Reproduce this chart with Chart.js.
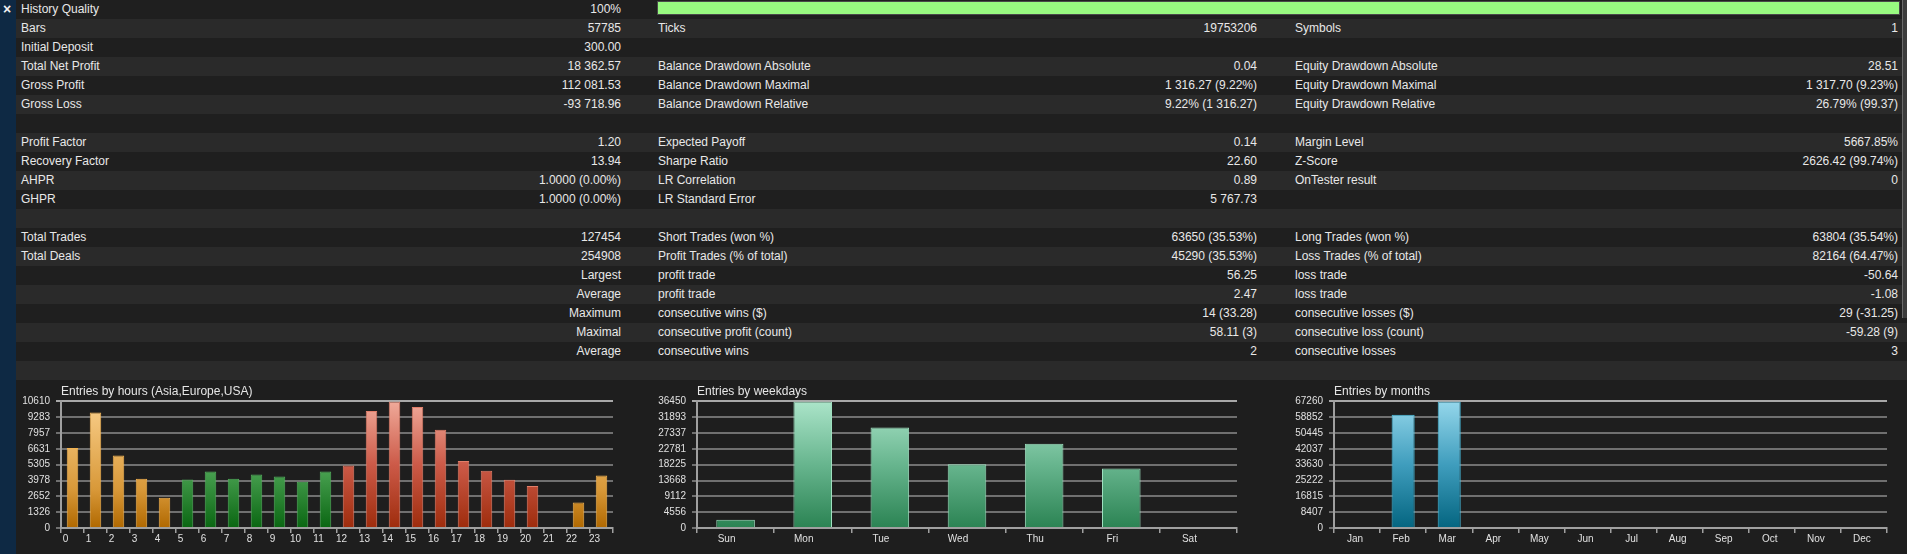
<!DOCTYPE html>
<html>
<head>
<meta charset="utf-8">
<script src="https://cdn.jsdelivr.net/npm/chart.js@4.4.0/dist/chart.umd.min.js"></script>
<style>
html, body { margin: 0; padding: 0; background: #1e1e1e; }
body { width: 1907px; height: 554px; overflow: hidden; position: relative;
       font-family: "Liberation Sans", Arial, sans-serif; font-size: 12px; color: #e8e8e8; }
#side { position: absolute; left: 0; top: 0; width: 16px; height: 554px; background: #0e2944; }
#close { position: absolute; left: 3px; top: 0; line-height: 19px; font-size: 14px; font-weight: bold; color: #f0f0f0; }
.row { position: absolute; left: 16px; width: 1891px; height: 19px; }
.t { position: absolute; line-height: 19px; white-space: nowrap; }
#quality { position: absolute; left: 657px; top: 1px; height: 14px; box-sizing: border-box;
           background: #98fa80; border: 1px solid #4a4a4a; }
#scroll { position: absolute; left: 1902px; top: 0; width: 5px; height: 318px; background: #3c3c3c; border-left: 1px solid #6a6a6a; box-sizing: border-box; }
canvas { position: absolute; top: 380px; }
</style>
</head>
<body>
<div id="side"><div id="close">×</div></div>
<div id="table"></div>
<div id="quality"></div>
<div id="scroll"></div>
<canvas id="hours" width="640" height="174" style="left:0px;width:640px;height:174px"></canvas>
<canvas id="days" width="640" height="174" style="left:640px;width:640px;height:174px"></canvas>
<canvas id="months" width="647" height="174" style="left:1260px;width:647px;height:174px"></canvas>
<script>
// report table, one list per column: [label, value]
var col1 = [
  ['History Quality', '100%'],
  ['Bars', '57785'],
  ['Initial Deposit', '300.00'],
  ['Total Net Profit', '18 362.57'],
  ['Gross Profit', '112 081.53'],
  ['Gross Loss', '-93 718.96'],
  ['', ''],
  ['Profit Factor', '1.20'],
  ['Recovery Factor', '13.94'],
  ['AHPR', '1.0000 (0.00%)'],
  ['GHPR', '1.0000 (0.00%)'],
  ['', ''],
  ['Total Trades', '127454'],
  ['Total Deals', '254908'],
  ['', 'Largest'],
  ['', 'Average'],
  ['', 'Maximum'],
  ['', 'Maximal'],
  ['', 'Average']
];
var col2 = [
  ['', ''],
  ['Ticks', '19753206'],
  ['', ''],
  ['Balance Drawdown Absolute', '0.04'],
  ['Balance Drawdown Maximal', '1 316.27 (9.22%)'],
  ['Balance Drawdown Relative', '9.22% (1 316.27)'],
  ['', ''],
  ['Expected Payoff', '0.14'],
  ['Sharpe Ratio', '22.60'],
  ['LR Correlation', '0.89'],
  ['LR Standard Error', '5 767.73'],
  ['', ''],
  ['Short Trades (won %)', '63650 (35.53%)'],
  ['Profit Trades (% of total)', '45290 (35.53%)'],
  ['profit trade', '56.25'],
  ['profit trade', '2.47'],
  ['consecutive wins ($)', '14 (33.28)'],
  ['consecutive profit (count)', '58.11 (3)'],
  ['consecutive wins', '2']
];
var col3 = [
  ['', ''],
  ['Symbols', '1'],
  ['', ''],
  ['Equity Drawdown Absolute', '28.51'],
  ['Equity Drawdown Maximal', '1 317.70 (9.23%)'],
  ['Equity Drawdown Relative', '26.79% (99.37)'],
  ['', ''],
  ['Margin Level', '5667.85%'],
  ['Z-Score', '2626.42 (99.74%)'],
  ['OnTester result', '0'],
  ['', ''],
  ['', ''],
  ['Long Trades (won %)', '63804 (35.54%)'],
  ['Loss Trades (% of total)', '82164 (64.47%)'],
  ['loss trade', '-50.64'],
  ['loss trade', '-1.08'],
  ['consecutive losses ($)', '29 (-31.25)'],
  ['consecutive loss (count)', '-59.28 (9)'],
  ['consecutive losses', '3']
];
var historyQuality = 100;

// charts
var hourLabels = ['0','1','2','3','4','5','6','7','8','9','10','11','12','13','14','15','16','17','18','19','20','21','22','23'];
var hourEntries = [6710, 9690, 6070, 4120, 2530, 4070, 4730, 4120, 4480, 4320, 3870, 4730, 5240, 9800, 10610, 10140, 8240, 5620, 4790, 4040, 3510, 0, 2140, 4400];
var hourTicks = [0, 1326, 2652, 3978, 5305, 6631, 7957, 9283, 10610];

var dayLabels = ['Sun','Mon','Tue','Wed','Thu','Fri','Sat'];
var dayEntries = [2400, 36450, 28920, 18330, 24250, 17104, 0];
var dayTicks = [0, 4556, 9112, 13668, 18225, 22781, 27337, 31893, 36450];

var monthLabels = ['Jan','Feb','Mar','Apr','May','Jun','Jul','Aug','Sep','Oct','Nov','Dec'];
var monthEntries = [0, 60194, 67260, 0, 0, 0, 0, 0, 0, 0, 0, 0];
var monthTicks = [0, 8407, 16815, 25222, 33630, 42037, 50445, 58852, 67260];

// ---- table ----
var table = document.getElementById('table');
var rowCount = 20;
for (var i = 0; i < rowCount; i++) {
  var r = document.createElement('div');
  r.className = 'row';
  r.style.top = (i * 19) + 'px';
  r.style.background = i % 2 ? '#2a2a2a' : '#1f1f1f';
  table.appendChild(r);
}
function addText(txt, row, left, right) {
  if (!txt) return;
  var d = document.createElement('div');
  d.className = 't';
  d.textContent = txt;
  d.style.top = (row * 19) + 'px';
  if (left != null) d.style.left = left + 'px';
  else d.style.right = (1907 - right) + 'px';
  table.appendChild(d);
}
[[col1, 21, 621], [col2, 658, 1257], [col3, 1295, 1898]].forEach(function (c) {
  c[0].forEach(function (cell, row) {
    addText(cell[0], row, c[1], null);
    addText(cell[1], row, null, c[2]);
  });
});
document.getElementById('quality').style.width = (1243 * historyQuality / 100) + 'px';

// ---- bar charts ----
Chart.defaults.font.family = '"Liberation Sans", Arial, sans-serif';
Chart.defaults.color = '#dcdcdc';

var palettes = {
  asia:   { stops: [[0, '#fad08c'], [0.7, '#d89838'], [1, '#b06800']], border: '#f2b352' },
  europe: { stops: [[0, '#8fd894'], [0.55, '#48a050'], [1, '#0a6612']], border: '#52ad5c' },
  usa:    { stops: [[0, '#f0aa9a'], [0.5, '#cc5a48'], [1, '#9e2c0c']], border: '#e27f6a' },
  days:   { stops: [[0, '#abe4c9'], [0.5, '#67b58e'], [1, '#2b8353']], border: '#9fe0c0' },
  months: { stops: [[0, '#95d7eb'], [0.5, '#3f9dbd'], [1, '#046580']], border: '#48bfe0' }
};

function session(h) {
  if (h >= 5 && h <= 11) return 'europe';
  if (h >= 12 && h <= 20) return 'usa';
  return 'asia';
}

function fill(c, name) {
  var a = c.chart.chartArea;
  var p = palettes[name];
  if (!a) return p.border;
  var g = c.chart.ctx.createLinearGradient(0, a.top, 0, a.bottom);
  p.stops.forEach(function (s) { g.addColorStop(s[0], s[1]); });
  return g;
}

function makeChart(id, labels, values, ticks, title, paletteOf, yWidth, padRight, labelOffset) {
  return new Chart(document.getElementById(id), {
    type: 'bar',
    data: {
      labels: labels,
      datasets: [{
        data: values,
        backgroundColor: function (c) { return fill(c, paletteOf(c.dataIndex)); },
        borderColor: function (c) { return palettes[paletteOf(c.dataIndex)].border; },
        borderWidth: 1,
        barPercentage: 0.5,
        categoryPercentage: 1.0
      }]
    },
    options: {
      responsive: false,
      animation: false,
      layout: { padding: { left: 0, right: padRight, top: 4, bottom: 0 } },
      plugins: {
        legend: { display: false },
        tooltip: { enabled: false },
        title: {
          display: true, text: title, align: 'start', fullSize: false,
          color: '#e6e6e6', font: { size: 12, weight: 'normal' },
          padding: { top: 0, bottom: 3 }
        }
      },
      scales: {
        x: {
          offset: true,
          grid: { offset: true, drawOnChartArea: false, drawTicks: true, tickLength: 5, color: '#a0a0a0', lineWidth: 1.5 },
          border: { display: true, color: '#a0a0a0', width: 2 },
          ticks: { autoSkip: false, maxRotation: 0, padding: 0, labelOffset: labelOffset, color: '#e0e0e0', font: { size: 10 } },
          afterFit: function (s) { s.height = 26; }
        },
        y: {
          min: 0,
          max: ticks[ticks.length - 1],
          afterBuildTicks: function (s) { s.ticks = ticks.map(function (v) { return { value: v }; }); },
          grid: {
            drawTicks: true, tickLength: 5, lineWidth: 2,
            color: function (c) { return c.index === ticks.length - 1 ? '#a8a8a8' : '#707070'; }
          },
          border: { display: true, color: '#a0a0a0', width: 2 },
          ticks: { padding: 6, color: '#e0e0e0', font: { size: 10 }, callback: function (v) { return String(v); } },
          afterFit: function (s) { s.width = yWidth; }
        }
      }
    }
  });
}

makeChart('hours', hourLabels, hourEntries, hourTicks, 'Entries by hours (Asia,Europe,USA)',
  function (i) { return session(i); }, 61, 27, -7);
makeChart('days', dayLabels, dayEntries, dayTicks, 'Entries by weekdays',
  function () { return 'days'; }, 57, 43, -9);
makeChart('months', monthLabels, monthEntries, monthTicks, 'Entries by months',
  function () { return 'months'; }, 74, 20, -2);
</script>
</body>
</html>
